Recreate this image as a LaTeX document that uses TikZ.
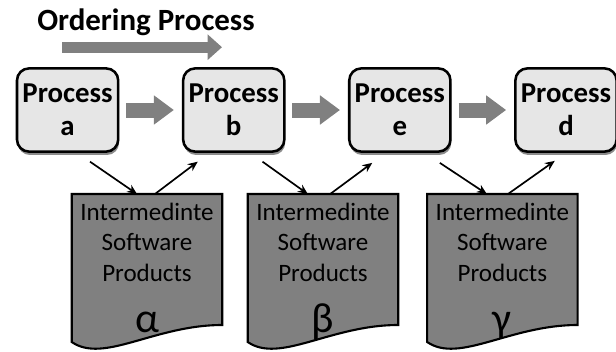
\documentclass[tikz,border=0pt]{standalone}
\usepackage{fontspec}
\setmainfont{Carlito}
\usetikzlibrary{arrows.meta,positioning,shadows,backgrounds}
\definecolor{boxfill}{HTML}{E6E6E6}
\definecolor{midgray}{HTML}{808080}
\definecolor{shadegray}{HTML}{5A5A5A}
\tikzset{
  procbox/.style={
    rectangle, rounded corners=0.3cm, draw=black, fill=boxfill, line width=1.8pt,
    minimum width=2.53cm, minimum height=2.08cm,
    font=\fontsize{20.5}{23.5}\selectfont\bfseries, align=center,
    inner sep=2pt,
    drop shadow={shadow xshift=0.6pt, shadow yshift=-2.4pt, fill=shadegray, opacity=0.7}
  },
  docnode/.style={
    rectangle, anchor=north, text width=3.75cm, inner xsep=0pt, inner ysep=6pt,
    font=\fontsize{17.8}{21.7}\selectfont, align=center
  },
  docshape/.style={
    draw=black, fill=midgray, line width=1.5pt
  },
  greeklabel/.style={
    anchor=base, inner sep=0pt, font=\fontsize{30}{36}\selectfont
  },
  titlelabel/.style={
    font=\fontsize{22}{26}\selectfont\bfseries, inner sep=0pt
  },
  fatarrow/.style={
    -{Triangle[length=0.5cm, width=0.7cm]}, line width=0.375cm, draw=midgray
  },
  titlearrow/.style={
    -{Triangle[length=0.36cm, width=0.62cm]}, line width=0.275cm, draw=midgray
  },
  linkarrow/.style={
    -{Stealth[length=7pt, width=6pt]}, line width=1.2pt, draw=black
  },
}
\begin{document}
\begin{tikzpicture}[node distance=1.56cm]
\useasboundingbox (0,0) rectangle (15.4,-8.8);

% title and its arrow
\node[titlelabel] (title) at (3.65,-0.55) {Ordering Process};
\coordinate (ordfrom) at (1.55,-1.18);
\coordinate (ordto) at (5.55,-1.18);
\draw[titlearrow] (ordfrom) -- (ordto);

% processes
\node[procbox] (pa) at (1.69,-2.75) {Process\\a};
\node[procbox, right=of pa] (pb) {Process\\b};
\node[procbox, right=of pb] (pe) {Process\\e};
\node[procbox, right=of pe] (pd) {Process\\d};

\draw[fatarrow] ([xshift=0.17cm]pa.east) -- ([xshift=-0.2cm]pb.west);
\draw[fatarrow] ([xshift=0.17cm]pb.east) -- ([xshift=-0.2cm]pe.west);
\draw[fatarrow] ([xshift=0.17cm]pe.east) -- ([xshift=-0.2cm]pd.west);

% intermediate products
\node[docnode] (da) at (3.675,-4.85) {Intermedinte\\Software\\Products};
\node[docnode] (db) at (8.075,-4.85) {Intermedinte\\Software\\Products};
\node[docnode] (dg) at (12.56,-4.85) {Intermedinte\\Software\\Products};

\begin{scope}[on background layer]
\foreach \d in {da,db,dg}
  \draw[docshape] (\d.north west) -- (\d.north east) -- ++(0,-3.275)
    .. controls +(-1.7,0) and +(0.8,-0.55) .. ([yshift=-3.7cm]\d.north west) -- cycle;
\end{scope}

\node[greeklabel] (ga) at ([yshift=-3.45cm]da.north) {α};
\node[greeklabel] (gb) at ([yshift=-3.45cm]db.north) {β};
\node[greeklabel] (gg) at ([yshift=-3.45cm]dg.north) {γ};

% links between processes and products
\draw[linkarrow] ([shift={(0.56,-0.22)}]pa.south) -- ([xshift=-0.25cm]da.north);
\draw[linkarrow] ([xshift=0.2cm]da.north) -- ([shift={(-0.9,-0.22)}]pb.south);
\draw[linkarrow] ([shift={(0.72,-0.22)}]pb.south) -- ([xshift=-0.38cm]db.north);
\draw[linkarrow] ([xshift=0.18cm]db.north) -- ([shift={(-0.69,-0.25)}]pe.south);
\draw[linkarrow] ([shift={(1.0,-0.25)}]pe.south) -- ([xshift=-0.39cm]dg.north);
\draw[linkarrow] ([xshift=0.14cm]dg.north) -- ([shift={(-0.28,-0.2)}]pd.south);
\end{tikzpicture}
\end{document}
